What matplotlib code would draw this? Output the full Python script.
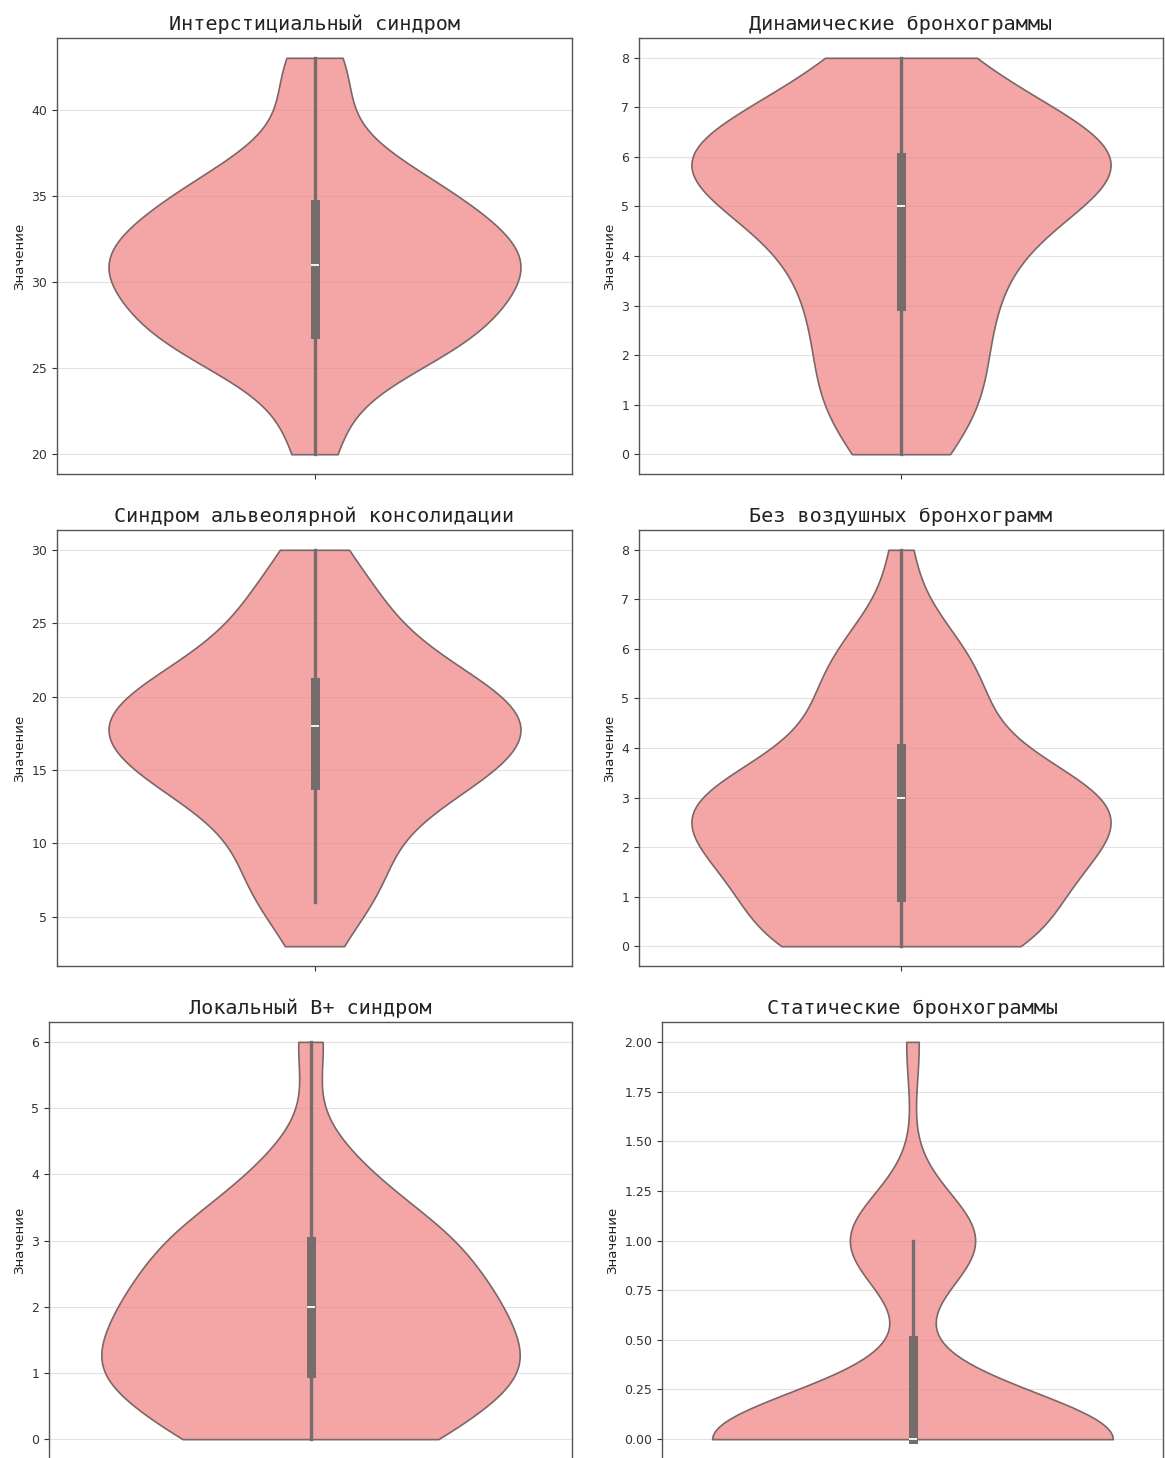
import numpy as np
import matplotlib
matplotlib.use("Agg")
import matplotlib.pyplot as plt
from matplotlib.colors import to_rgb
import seaborn as sns

interst_values = [20, 22, 25, 26, 27, 28, 29, 30, 31, 32, 33, 34, 35, 36, 37, 40, 42, 43]
interst_counts = [1, 1, 1, 3, 5, 1, 2, 3, 5, 4, 2, 1, 4, 2, 1, 1, 1, 1]

dynamic_values = [0, 1, 2, 3, 4, 5, 6, 7, 8]
dynamic_counts = [2, 4, 3, 4, 4, 6, 14, 4, 3]

alveol_values = [3, 6, 7, 8, 9, 11, 12, 13, 14, 15, 16, 17, 18, 19, 20, 21, 22, 23, 24, 25, 26, 27, 28, 30]
alveol_counts = [1, 1, 2, 1, 1, 1, 1, 2, 2, 3, 3, 2, 4, 3, 3, 3, 1, 1, 1, 1, 1, 1, 1, 1]

noair_values = [0, 1, 2, 3, 4, 5, 6, 7, 8]
noair_counts = [11, 10, 14, 17, 6, 6, 5, 1, 1]

localb_values = [0, 1, 2, 3, 4, 6]
localb_counts = [7, 12, 10, 8, 3, 1]

static_values = [0, 1, 2]
static_counts = [32, 10, 1]

titles = [
    "Интерстициальный синдром",
    "Динамические бронхограммы",
    "Синдром альвеолярной консолидации",
    "Без воздушных бронхограмм",
    "Локальный B+ синдром",
    "Статические бронхограммы",
]

tables = [
    (interst_values, interst_counts),
    (dynamic_values, dynamic_counts),
    (alveol_values, alveol_counts),
    (noair_values, noair_counts),
    (localb_values, localb_counts),
    (static_values, static_counts),
]

W, H = 1165, 1458
fig = plt.figure(figsize=(W / 100, H / 100), dpi=100)

# axes boxes in pixels: left, right, top, bottom
boxes = [
    (57, 572, 38, 474), (639, 1163, 38, 474),
    (57, 572, 530, 966), (639, 1163, 530, 966),
    (49, 572, 1022, 1459), (662, 1163, 1022, 1459),
]

fill = (*to_rgb("lightcoral"), 0.7)

for (vals, cnts), title, (x0, x1, yt, yb) in zip(tables, titles, boxes):
    ax = fig.add_axes([x0 / W, 1 - yb / H, (x1 - x0) / W, (yb - yt) / H])
    data = np.repeat(vals, cnts).astype(float)
    sns.violinplot(y=data, ax=ax, color="lightcoral", saturation=1,
                   cut=0, inner="box", linewidth=1.2, linecolor="#766c6c",
                   inner_kws=dict(box_width=6.5, whis_width=2.4))
    for coll in ax.collections:
        coll.set_facecolor(fill)
        coll.set_edgecolor("#7d6666")
    ax.set_axisbelow(True)
    ax.yaxis.grid(True, color="#e2e2e2", linewidth=0.8)
    ax.set_title(title, fontsize=14.5, family="DejaVu Sans Mono", color="#222222")
    ax.set_ylabel("Значение", fontsize=9.5, color="#222222")
    ax.set_xticks([0])
    ax.set_xticklabels([""])
    ax.tick_params(labelsize=9, colors="#333333")
    for s in ax.spines.values():
        s.set_color("#555555")
        s.set_linewidth(1.0)

fig.savefig("out.png", dpi=100)
